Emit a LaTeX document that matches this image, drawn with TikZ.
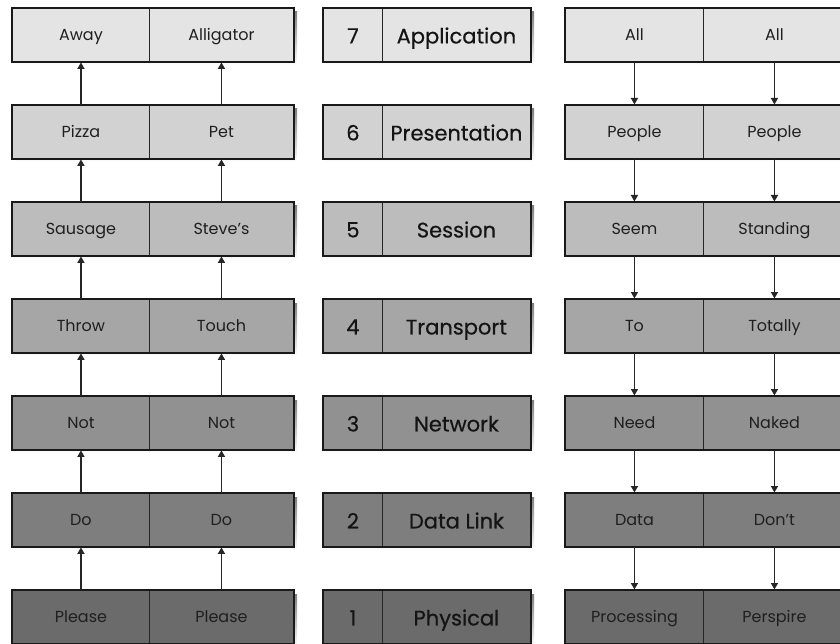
\documentclass[tikz,border=0pt]{standalone}
\usepackage{fontspec}
\setmainfont{Poppins}
\newfontfamily\midfont[FakeBold=0.5]{Poppins}
\usetikzlibrary{arrows.meta}
\definecolor{row7}{HTML}{E4E4E4}
\definecolor{row6}{HTML}{D2D2D2}
\definecolor{row5}{HTML}{BCBCBC}
\definecolor{row4}{HTML}{A6A6A6}
\definecolor{row3}{HTML}{919191}
\definecolor{row2}{HTML}{7E7E7E}
\definecolor{row1}{HTML}{6B6B6B}
\definecolor{shade}{HTML}{D0D0D0}
\begin{document}
\begin{tikzpicture}[x=1pt,y=-1pt,
  cell/.style={draw=black!85, line width=0.9pt, minimum height=53pt, inner sep=0pt,
    anchor=north west, text height=14pt, text depth=2pt,
    font=\fontsize{16}{16}\selectfont, text=black!88},
  bigcell/.style={cell, text height=20pt, text depth=3pt,
    font=\midfont\fontsize{21}{21}\selectfont, text=black!92},
  frame/.style={draw=black!90, line width=2pt},
  arr/.style={draw=black!85, line width=1.5pt, -{Triangle[width=7pt,length=6.5pt]}, shorten >=0.5pt}]
\useasboundingbox (0,0) rectangle (840,644);
\clip (0,0) rectangle (840,644);
\foreach \i/\la/\lb/\num/\nm/\ra/\rb in {
  7/Away/Alligator/7/Application/All/All,
  6/Pizza/Pet/6/Presentation/People/People,
  5/Sausage/Steve's/5/Session/Seem/Standing,
  4/Throw/Touch/4/Transport/To/Totally,
  3/Not/Not/3/Network/Need/Naked,
  2/Do/Do/2/Data Link/Data/Don't,
  1/Please/Please/1/Physical/Processing/Perspire}{
  \pgfmathsetmacro\t{8+97*(7-\i)}
  % shadows
  \fill[shade] (15,{\t+4}) rectangle (297,{\t+57});
  \fill[shade] (326,{\t+4}) rectangle (534,{\t+57});
  \fill[shade] (568,{\t+4}) rectangle (849,{\t+57});
  % left column
  \node[cell, fill=row\i, minimum width=137pt] (L\i-a) at (12,\t) {\la};
  \node[cell, fill=row\i, minimum width=144pt] (L\i-b) at (149,\t) {\lb};
  \draw[frame] (L\i-a.north west) rectangle (L\i-b.south east);
  % middle column
  \node[bigcell, fill=row\i, minimum width=59pt] (M\i-n) at (323,\t) {\num};
  \node[bigcell, fill=row\i, minimum width=148pt] (M\i-t) at (382,\t) {\nm};
  \draw[frame] (M\i-n.north west) rectangle (M\i-t.south east);
  % right column
  \node[cell, fill=row\i, minimum width=138pt] (R\i-a) at (565,\t) {\ra};
  \node[cell, fill=row\i, minimum width=142pt] (R\i-b) at (703,\t) {\rb};
  \draw[frame] (R\i-a.north west) rectangle (R\i-b.south east);
}
\foreach \i in {1,...,6}{
  \pgfmathtruncatemacro\j{\i+1}
  \draw[arr] (L\i-a.north) -- (L\j-a.south);
  \draw[arr] (L\i-b.north) -- (L\j-b.south);
  \draw[arr] (R\j-a.south) -- (R\i-a.north);
  \draw[arr] (R\j-b.south) -- (R\i-b.north);
}
\end{tikzpicture}
\end{document}
